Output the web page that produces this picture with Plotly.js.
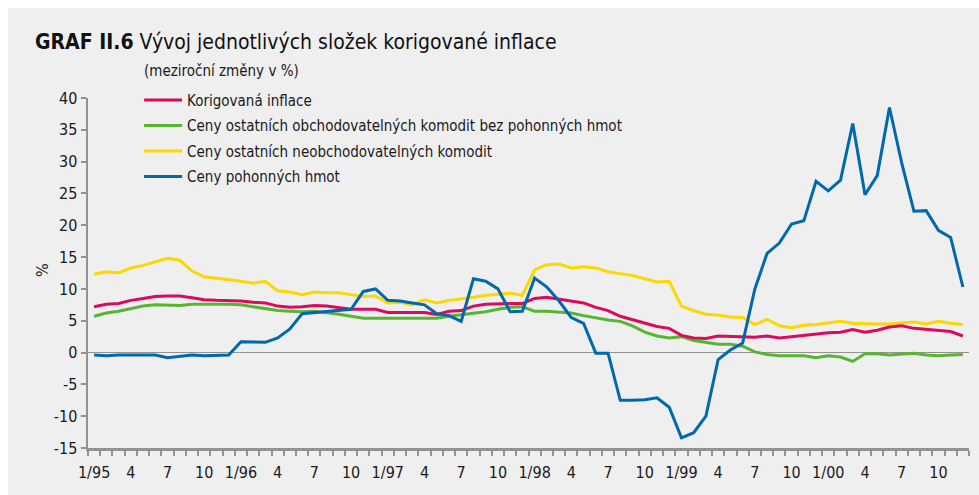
<!DOCTYPE html>
<html><head><meta charset="utf-8">
<script src="https://cdn.plot.ly/plotly-3.0.1.min.js"></script>
<style>
html,body{margin:0;padding:0;background:#ffffff;}
#chart{position:absolute;left:8px;top:8px;width:971px;height:487px;}
</style>
</head><body><div id="chart"></div>
<script>
// Tick labels (every 3rd month, 1/95 .. 10/00)
const tickLabels = ['1/95','4','7','10','1/96','4','7','10','1/97','4','7','10',
  '1/98','4','7','10','1/99','4','7','10','1/00','4','7','10'];
// y-axis tick values
const yTicks = [-15, -10, -5, 0, 5, 10, 15, 20, 25, 30, 35, 40];

// Monthly values 1/1995 .. 12/2000 (y/y % changes)
const korigovana = [
  7.2,7.6,7.7,8.2,8.5,8.8,8.9,8.9,8.6,8.3,8.2,8.2,
  8.1,7.9,7.8,7.3,7.1,7.2,7.4,7.3,7.1,6.8,6.8,6.8,
  6.3,6.3,6.2,6.3,6.0,6.5,6.6,7.3,7.6,7.7,7.7,7.7,
  8.5,8.7,8.4,8.0,7.8,7.1,6.6,5.7,5.2,4.6,4.1,3.8,
  2.7,2.3,2.2,2.6,2.5,2.4,2.4,2.6,2.3,2.5,2.7,3.0,
  3.1,3.2,3.6,3.2,3.5,4.0,4.2,3.8,3.6,3.5,3.3,2.6];
const obchodovatelne = [
  5.7,6.2,6.5,6.9,7.3,7.5,7.4,7.4,7.6,7.6,7.7,7.6,
  7.5,7.2,6.9,6.6,6.5,6.4,6.5,6.3,6.0,5.7,5.4,5.4,
  5.4,5.4,5.4,5.4,5.4,5.7,5.9,6.2,6.4,6.8,7.1,7.2,
  6.5,6.5,6.4,6.2,5.8,5.4,5.1,4.9,4.2,3.2,2.6,2.3,
  2.5,1.9,1.6,1.3,1.3,1.0,0.1,-0.3,-0.5,-0.5,-0.5,-0.8,
  -0.5,-0.7,-1.4,-0.2,-0.2,-0.4,-0.2,-0.1,-0.4,-0.5,-0.4,-0.3];
const neobchodovatelne = [
  12.3,12.7,12.5,13.3,13.7,14.3,14.8,14.5,12.8,11.9,11.7,11.5,
  11.2,10.9,11.2,9.7,9.5,9.1,9.5,9.4,9.4,9.1,8.8,8.9,
  7.8,7.9,7.5,8.3,7.8,8.2,8.4,8.7,9.0,9.2,9.3,9.0,
  13.0,13.8,13.9,13.3,13.5,13.3,12.7,12.4,12.1,11.6,11.1,11.2,
  7.3,6.6,6.0,5.9,5.6,5.5,4.4,5.2,4.2,3.9,4.3,4.4,
  4.7,4.9,4.6,4.5,4.5,4.5,4.6,4.8,4.5,4.9,4.6,4.4];
const pohonneHmoty = [
  -0.4,-0.5,-0.4,-0.4,-0.5,-0.4,-0.8,-0.6,-0.4,-0.5,-0.4,-0.4,
  1.7,1.7,1.6,2.3,3.7,6.1,6.3,6.5,6.6,6.8,9.6,10.0,
  8.2,8.1,7.8,7.5,6.1,5.8,4.9,11.6,11.2,10.0,6.4,6.5,
  11.7,10.3,8.1,5.5,4.6,-0.1,-0.1,-7.5,-7.5,-7.4,-7.1,-8.6,
  -13.4,-12.6,-10.0,-1.1,0.4,1.5,10.0,15.6,17.2,20.2,20.7,26.9,
  25.4,27.1,36.0,24.8,27.8,38.5,29.8,22.2,22.3,19.2,18.1,10.3];

const seriesNames = ['Korigovaná inflace',
  'Ceny ostatních obchodovatelných komodit bez pohonných hmot',
  'Ceny ostatních neobchodovatelných komodit',
  'Ceny pohonných hmot'];
const seriesColors = ['#dc0a5a','#58b530','#fbd800','#0068ad'];
const seriesData = [korigovana, obchodovatelne, neobchodovatelne, pohonneHmoty];

const n = korigovana.length;
const xIdx = korigovana.map((_, i) => i);
const tickVals = tickLabels.map((_, k) => k * 3);
const minorVals = [];
for (let i = 0; i <= n; i++) minorVals.push(i - 0.5);

const FONT = '"DejaVu Sans Condensed", "Liberation Sans Narrow", "Open Sans", sans-serif';
const AX = '#929292';
const TXT = '#1a1a1a';

const traces = seriesData.map((d, k) => ({
  x: xIdx, y: d, type: 'scatter', mode: 'lines', name: seriesNames[k],
  legendgroup: 'g' + k, legendrank: k + 1,
  line: {color: seriesColors[k], width: 3}
}));
// drawing order: green, yellow, red, blue (blue on top); legend order by rank
const order = [1, 2, 0, 3].map(k => traces[k]);

const layout = {
  width: 971, height: 487,
  paper_bgcolor: '#efefef', plot_bgcolor: '#efefef',
  margin: {l: 80, r: 10, t: 90, b: 47},
  font: {family: FONT, size: 16, color: TXT},
  title: {
    text: '<b>GRAF II.6</b> Vývoj jednotlivých složek korigované inflace',
    font: {family: FONT, size: 21, color: '#111'},
    x: 27/971, xref: 'container', xanchor: 'left',
    y: 1 - 34/487, yref: 'container', yanchor: 'middle'
  },
  showlegend: true,
  legend: {
    x: 0.058, xanchor: 'left', y: 1.041, yanchor: 'top',
    bgcolor: 'rgba(0,0,0,0)', font: {family: FONT, size: 15, color: TXT},
    traceorder: 'grouped', tracegroupgap: 3, itemwidth: 38
  },
  xaxis: {
    range: [-0.5, n - 0.5], zeroline: false, showgrid: false,
    showline: true, linecolor: AX, linewidth: 2.5,
    tickmode: 'array', tickvals: tickVals, ticktext: tickLabels,
    ticks: 'outside', ticklen: 8, tickcolor: 'rgba(0,0,0,0)',
    tickfont: {family: FONT, size: 16, color: TXT},
    minor: {tickmode: 'array', tickvals: minorVals, ticks: 'outside', ticklen: 5, tickwidth: 2, tickcolor: AX}
  },
  yaxis: {
    range: [-15, 40], showgrid: false,
    tickmode: 'array', tickvals: yTicks, ticktext: yTicks.map(v => String(v)),
    showline: true, linecolor: AX, linewidth: 2.5,
    ticks: 'outside', ticklen: 5, tickwidth: 2, tickcolor: AX,
    zeroline: true, zerolinecolor: AX, zerolinewidth: 1.5,
    tickfont: {family: FONT, size: 16, color: TXT}
  },
  annotations: [
    {text: '(meziroční změny v %)', xref: 'paper', yref: 'paper', x: 0.061, y: 1.077,
     xanchor: 'left', yanchor: 'middle', showarrow: false, font: {family: FONT, size: 15, color: TXT}},
    {text: '%', xref: 'paper', yref: 'y', x: -0.051, y: 13, textangle: -90,
     xanchor: 'center', yanchor: 'middle', showarrow: false, font: {family: FONT, size: 16, color: TXT}}
  ]
};

Plotly.newPlot('chart', order, layout, {displayModeBar: false, staticPlot: true});
</script></body></html>
